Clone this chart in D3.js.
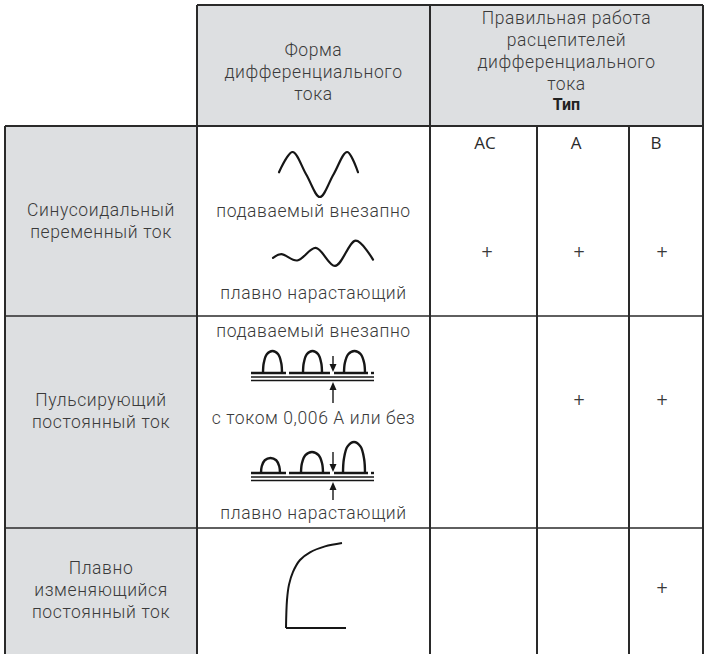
<!DOCTYPE html>
<html><head><meta charset="utf-8">
<script src="https://cdn.jsdelivr.net/npm/d3@7/dist/d3.min.js"></script>
<style>
html,body{margin:0;padding:0;background:#fff;}
svg{display:block;}
</style></head>
<body>
<svg id="chart" width="704" height="654"></svg>
<script>
// ---------- data ----------
const headerForm = ["Форма", "дифференциального", "тока"];
const headerWork = ["Правильная работа", "расцепителей", "дифференциального", "тока"];
const headerType = "Тип";
const typeColumns = ["AC", "A", "B"];
const rowLabels = [
  ["Синусоидальный", "переменный ток"],
  ["Пульсирующий", "постоянный ток"],
  ["Плавно", "изменяющийся", "постоянный ток"]
];
const plusMarks = [
  [1, 1, 1],
  [0, 1, 1],
  [0, 0, 1]
];
const captionsRow1 = ["подаваемый внезапно", "плавно нарастающий"];
const captionsRow2 = ["подаваемый внезапно", "с током 0,006 А или без", "плавно нарастающий"];

// waveform samples: [time (periods), amplitude]
const sineSudden = [[0,0.1],[0.25,1],[0.5,0],[0.75,-1],[1,0],[1.25,1],[1.45,0.1]];
const sineGrowing = [[0,-0.1],[0.12,0.1],[0.35,-0.25],[0.62,0.45],[0.9,-0.55],[1.2,0.85],[1.45,-0.2]];
// pulsating: humps [start, end, height] in glyph units (0..123 along)
const pulseSudden = [[12,31,22],[52,71,22],[93,114,22]];
const pulseGrowing = [[10,29,15],[50,72,21],[92,114,31]];
const pulseGaps = [[35,38],[79,83],[117,120]];
// smooth DC: rise curve samples [time, level]
const smoothDC = [[0,0],[1,0.33],[3,0.51],[7,0.66],[14,0.8],[24,0.89],[39,0.96],[56,1]];

// ---------- layout ----------
const colX = [5, 197, 430, 537, 629, 703];
const rowY = [5, 126, 316, 528, 654];
const gray = "#dddfe1";
const lineCol = "#2a2a2a";
const textCol = "#3a3a3a";
const font = "Roboto, 'Liberation Sans', Arial, sans-serif";
const fs = 17.5;
const ls = 0.6;

const svg = d3.select("#chart");

// backgrounds
svg.append("rect").attr("x", colX[1]).attr("y", rowY[0]).attr("width", colX[5]-colX[1]).attr("height", rowY[1]-rowY[0]).attr("fill", gray);
svg.append("rect").attr("x", colX[0]).attr("y", rowY[1]).attr("width", colX[1]-colX[0]).attr("height", rowY[4]-rowY[1]).attr("fill", gray);

// grid lines
const seg = (x1,y1,x2,y2,w) => svg.append("line").attr("x1",x1).attr("y1",y1).attr("x2",x2).attr("y2",y2)
  .attr("stroke", lineCol).attr("stroke-width", w||2);
seg(colX[1], rowY[0], colX[5], rowY[0]);
seg(colX[1], rowY[0], colX[1], rowY[4]);
seg(colX[2], rowY[0], colX[2], rowY[4]);
seg(colX[5], rowY[0], colX[5], rowY[4]);
seg(colX[0], rowY[1], colX[5], rowY[1]);
seg(colX[0], rowY[1], colX[0], rowY[4]);
seg(colX[3], rowY[1], colX[3], rowY[4]);
seg(colX[4], rowY[1], colX[4], rowY[4]);
seg(colX[0], rowY[2], colX[5], rowY[2], 1.6);
seg(colX[0], rowY[3], colX[5], rowY[3], 1.6);

const textLayer = svg.append("g");

function lines(arr, cx, yStart, step, opts) {
  opts = opts || {};
  arr.forEach((t, i) => {
    textLayer.append("text").attr("x", cx).attr("y", yStart + i*step).attr("dy", "0.35em")
      .attr("text-anchor", "middle").attr("font-family", opts.family || font)
      .attr("font-size", opts.size || fs).attr("font-weight", opts.weight || 300)
      .attr("letter-spacing", opts.ls != null ? opts.ls : ls)
      .attr("fill", opts.fill || textCol).text(t);
  });
}
const midForm = (colX[1]+colX[2])/2;
const midWork = (colX[2]+colX[5])/2;
lines(headerForm, midForm, 50, 22);
lines(headerWork, midWork, 18, 22);
lines([headerType], midWork, 104, 22, {weight: 700, fill: "#222", size: 16, ls: 0});

// type columns
const typeX = [485, 576, 656];
typeColumns.forEach((t, i) => {
  textLayer.append("text").attr("x", typeX[i]).attr("y", 143).attr("dy","0.35em").attr("text-anchor","middle")
    .attr("font-family", "'Open Sans', 'DejaVu Sans', sans-serif").attr("font-size", 17).attr("font-weight", 400)
    .attr("fill", "#2a2a2a").text(t);
});

// row labels
const labelY = [[210], [400], [568]];
rowLabels.forEach((r, i) => lines(r, (colX[0]+colX[1])/2, labelY[i][0], 22));

// plus marks
const plusY = [252, 400, 588];
const plusX = [487, 579, 662];
plusMarks.forEach((row, i) => row.forEach((v, j) => {
  if (v) textLayer.append("text").attr("x", plusX[j]).attr("y", plusY[i]).attr("dy","0.35em").attr("text-anchor","middle")
    .attr("font-family", "'DejaVu Sans', sans-serif").attr("font-size", 15).attr("font-weight", 400).attr("fill", "#3a3a3a").text("+");
}));

// captions
lines([captionsRow1[0]], midForm, 211, 0);
lines([captionsRow1[1]], midForm, 293, 0);
lines([captionsRow2[0]], midForm, 331, 0);
lines([captionsRow2[1]], midForm, 418, 0);
lines([captionsRow2[2]], midForm, 513, 0);

const glyphStroke = "#161616";
// sine sudden
{
  const x = d3.scaleLinear().domain([0, 1.45]).range([279, 358]);
  const y = d3.scaleLinear().domain([-1, 1]).range([197, 152]);
  svg.append("path").attr("d", d3.line().x(d=>x(d[0])).y(d=>y(d[1])).curve(d3.curveCatmullRom.alpha(0.5))(sineSudden))
    .attr("fill","none").attr("stroke",glyphStroke).attr("stroke-width",2.2).attr("stroke-linecap","round");
}
// sine growing
{
  const x = d3.scaleLinear().domain([0, 1.45]).range([273, 373]);
  const y = d3.scaleLinear().domain([-1, 1]).range([274, 238]);
  svg.append("path").attr("d", d3.line().x(d=>x(d[0])).y(d=>y(d[1])).curve(d3.curveCatmullRom.alpha(0.5))(sineGrowing))
    .attr("fill","none").attr("stroke",glyphStroke).attr("stroke-width",2.2).attr("stroke-linecap","round");
}

// pulsating glyphs
function pulse(humps, baseY, arrowTopY, arrowBottomY) {
  const x = d3.scaleLinear().domain([0, 123]).range([251, 374]);
  const y = d3.scaleLinear().domain([0, 30]).range([baseY, baseY - 30]);
  const g = svg.append("g");
  let cur = 0;
  const stops = pulseGaps.concat([[123,123]]);
  stops.forEach(gp => {
    g.append("line").attr("x1", x(cur)).attr("x2", x(gp[0])).attr("y1", baseY).attr("y2", baseY)
      .attr("stroke", glyphStroke).attr("stroke-width", 2.4);
    cur = gp[1];
  });
  humps.forEach(h => {
    const [s, e, ht] = h;
    const w = e - s;
    const pts = [[s, 0], [s + 0.04*w, 0.45*ht], [s + 0.2*w, 0.85*ht], [s + 0.5*w, ht], [e - 0.2*w, 0.85*ht], [e - 0.04*w, 0.45*ht], [e, 0]];
    g.append("path").attr("d", d3.line().x(d=>x(d[0])).y(d=>y(d[1])).curve(d3.curveCatmullRom.alpha(0.5))(pts))
      .attr("fill","none").attr("stroke",glyphStroke).attr("stroke-width",2.4);
  });
  g.append("line").attr("x1", x(0)).attr("x2", x(123)).attr("y1", baseY+4).attr("y2", baseY+4).attr("stroke", glyphStroke).attr("stroke-width", 1.4);
  g.append("line").attr("x1", x(0)).attr("x2", x(123)).attr("y1", baseY+7.5).attr("y2", baseY+7.5).attr("stroke", glyphStroke).attr("stroke-width", 1.4);
  const ax = x(82);
  g.append("line").attr("x1", ax).attr("x2", ax).attr("y1", arrowTopY).attr("y2", baseY - 6).attr("stroke", glyphStroke).attr("stroke-width", 1.4);
  g.append("path").attr("d", `M${ax-3.5},${baseY-9}L${ax+3.5},${baseY-9}L${ax},${baseY-1}Z`).attr("fill", glyphStroke);
  g.append("line").attr("x1", ax).attr("x2", ax).attr("y1", baseY + 13).attr("y2", arrowBottomY).attr("stroke", glyphStroke).attr("stroke-width", 1.4);
  g.append("path").attr("d", `M${ax-3.5},${baseY+17}L${ax+3.5},${baseY+17}L${ax},${baseY+9}Z`).attr("fill", glyphStroke);
}
pulse(pulseSudden, 373, 356, 403);
pulse(pulseGrowing, 473, 452, 500);

// smooth DC
{
  const x = d3.scaleLinear().domain([0, 60]).range([286, 346]);
  const y = d3.scaleLinear().domain([0, 1]).range([628, 543]);
  svg.append("path").attr("d", d3.line().x(d=>x(d[0])).y(d=>y(d[1])).curve(d3.curveCatmullRom.alpha(0.5))(smoothDC))
    .attr("fill","none").attr("stroke",glyphStroke).attr("stroke-width",2);
  svg.append("line").attr("x1", x(0)).attr("x2", x(60)).attr("y1", y(0)).attr("y2", y(0)).attr("stroke", glyphStroke).attr("stroke-width", 2);
}
</script>
</body></html>
